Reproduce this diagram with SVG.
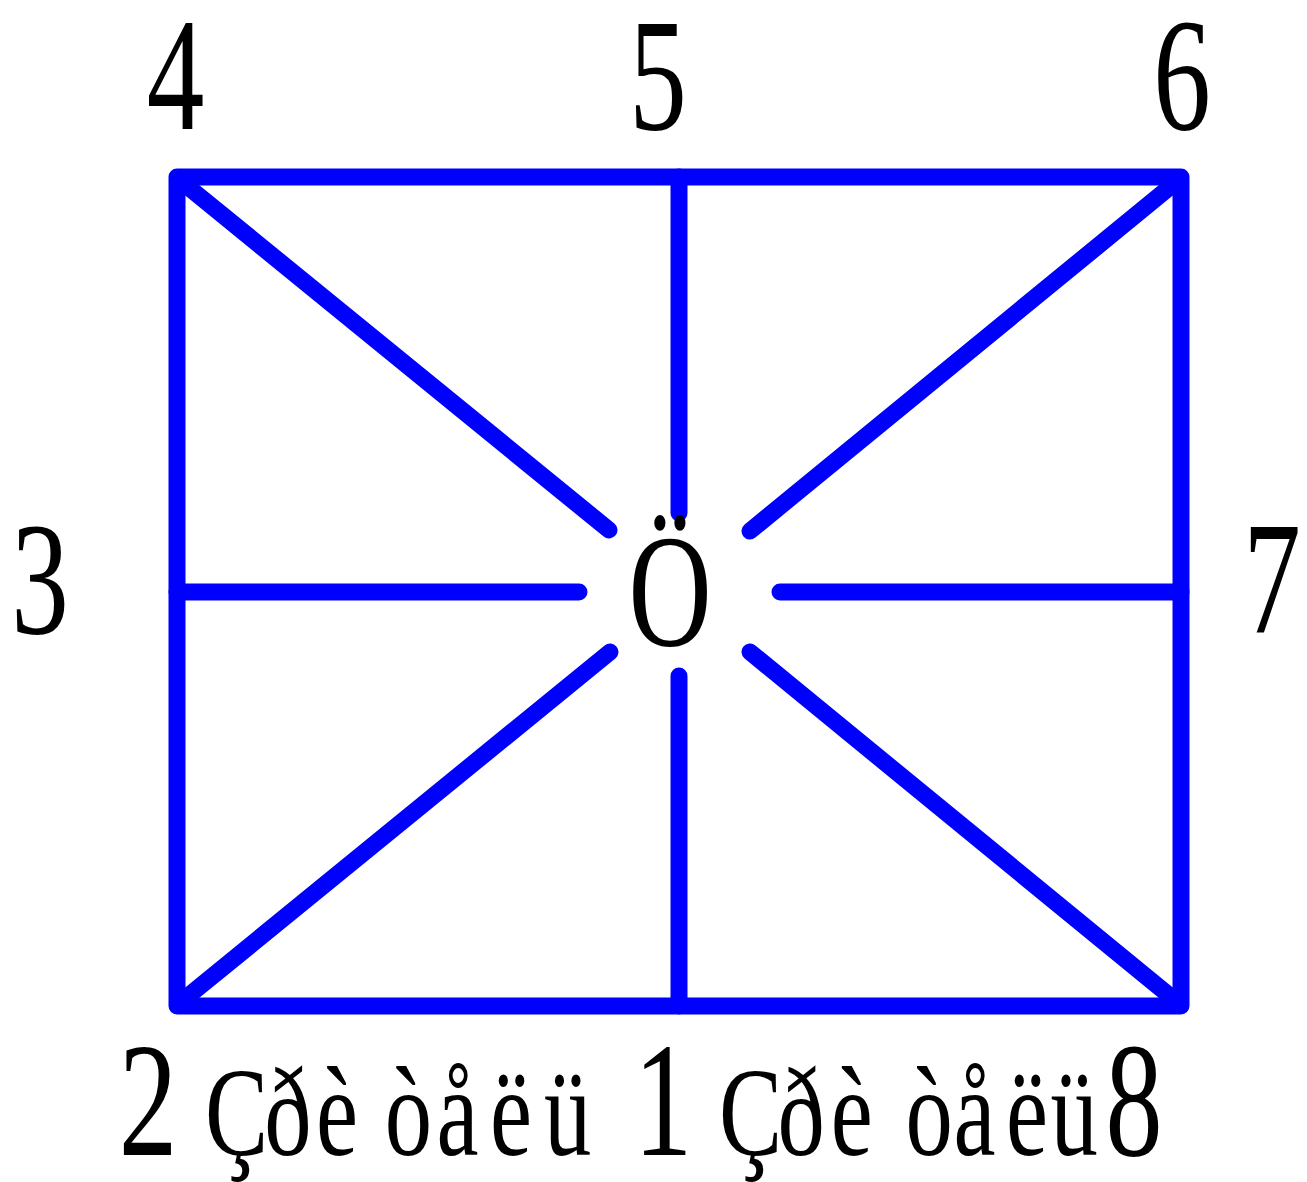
<svg xmlns="http://www.w3.org/2000/svg" width="1307" height="1182" viewBox="0 0 1307 1182">
<style>
.ln{stroke:#0000ff;stroke-width:17;stroke-linecap:round;stroke-linejoin:round;fill:none}
.dg{font-family:"Liberation Serif","Times New Roman",serif;font-size:160px;fill:#000;text-anchor:middle}
.bd{font-size:163px}
.wd{font-family:"Liberation Serif","Times New Roman",serif;font-size:128px;fill:#000}
</style>
<rect width="1307" height="1182" fill="#fff"/>
<g id="connectors">
<rect class="ln" x="177" y="177" width="1004" height="829"/>
<line class="ln" x1="679" y1="177" x2="679" y2="513"/>
<line class="ln" x1="679" y1="676" x2="679" y2="1006"/>
<line class="ln" x1="177" y1="592" x2="579" y2="592"/>
<line class="ln" x1="780" y1="592" x2="1181" y2="592"/>
<line class="ln" x1="182" y1="182" x2="609" y2="530"/>
<line class="ln" x1="1176" y1="182" x2="750" y2="531"/>
<line class="ln" x1="182" y1="1001" x2="610" y2="652"/>
<line class="ln" x1="1176" y1="1001" x2="750" y2="652"/>
</g>
<g id="node-4"><text class="dg" transform="translate(175.5,129) scale(0.72,1)">4</text></g>
<g id="node-5"><text class="dg" transform="translate(658,129) scale(0.72,1)">5</text></g>
<g id="node-6"><text class="dg" transform="translate(1182,129) scale(0.72,1)">6</text></g>
<g id="node-3"><text class="dg" transform="translate(40,633) scale(0.72,1)">3</text></g>
<g id="node-7"><text class="dg" transform="translate(1272,633) scale(0.72,1)">7</text></g>
<g id="node-center"><text class="dg" transform="translate(670,645) scale(0.72,1)">Ö</text></g>
<g id="node-2"><text class="dg bd" transform="translate(148,1155) scale(0.72,1)">2</text></g>
<g id="node-1"><text class="dg bd" transform="translate(663,1155) scale(0.72,1)">1</text></g>
<g id="node-8"><text class="dg bd" transform="translate(1134,1155) scale(0.70,1)">8</text></g>
<g id="label-left"><text class="wd" transform="translate(205,1155) scale(0.74,1)" x="0 80 150 195 243 313 385 458">Çðè òåëü</text></g>
<g id="label-right"><text class="wd" transform="translate(719,1155) scale(0.74,1)" x="0 79 151 199 252 317 388 448">Çðè òåëü</text></g>
</svg>
